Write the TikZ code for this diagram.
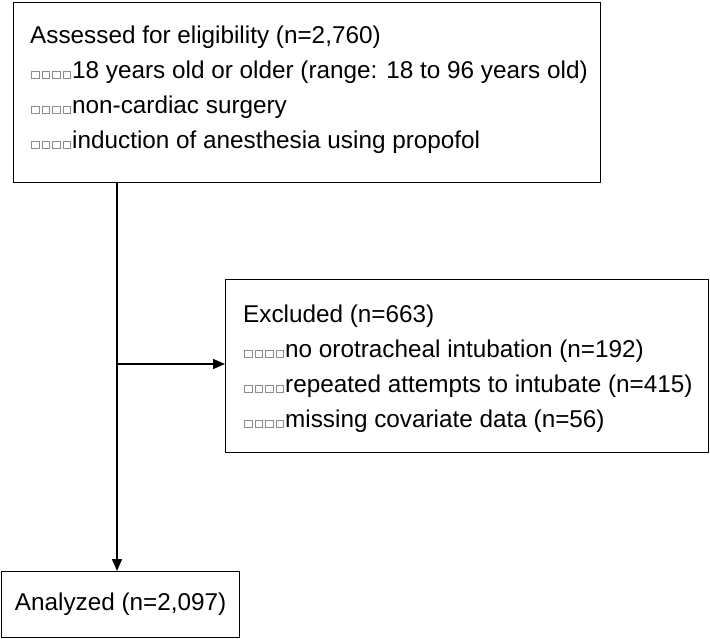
\documentclass[tikz,border=0pt]{standalone}
\usepackage{fontspec}
\setmainfont{Liberation Sans}
\usetikzlibrary{arrows.meta}
\newcommand\tofu{\hbox to 10.5pt{\hss{\color{gray!90}\setlength{\fboxrule}{0.7pt}\setlength{\fboxsep}{0pt}\fbox{\rule{0pt}{6.8pt}\hspace{6.8pt}}}\hss}}
\newcommand\tofus{\tofu\tofu\tofu\tofu}
\begin{document}
\begin{tikzpicture}[x=1pt,y=-1pt,
  box/.style={draw=black, line width=1.3pt, rectangle, inner sep=0pt, anchor=north west},
  txt/.style={inner sep=0pt, anchor=base west, font=\fontsize{24.3}{29}\selectfont},
  arr/.style={line width=1.5pt, -{Triangle[length=12pt,width=10pt]}}]
\useasboundingbox (0,0) rectangle (710,638);
% boxes
\node[box, minimum width=587pt, minimum height=180pt] (top) at (13,2) {};
\node[box, minimum width=483pt, minimum height=173pt] (excl) at (225,279) {};
\node[box, minimum width=238pt, minimum height=66pt, font=\fontsize{24.3}{29}\selectfont] (bot) at (1,571) {Analyzed (n=2,097)};
% top box text
\node[txt] (t1) at (30,43) {Assessed for eligibility (n=2,760)};
\node[txt] (t2) at (30,78) {\tofus18 years old or older (range: 18 to 96 years old)};
\node[txt] (t3) at (30,113) {\tofus non-cardiac surgery};
\node[txt] (t4) at (30,148) {\tofus induction of anesthesia using propofol};
% excluded box text
\node[txt] (e1) at (243,322) {Excluded (n=663)};
\node[txt] (e2) at (243,357) {\tofus no orotracheal intubation (n=192)};
\node[txt] (e3) at (243,392) {\tofus repeated attempts to intubate (n=415)};
\node[txt] (e4) at (243,427) {\tofus missing covariate data (n=56)};
% connectors
\coordinate (j) at (117,364);
\draw[arr] (j |- top.south) -- (j |- bot.north);
\draw[arr] (j) -- (j -| excl.west);
\end{tikzpicture}
\end{document}
